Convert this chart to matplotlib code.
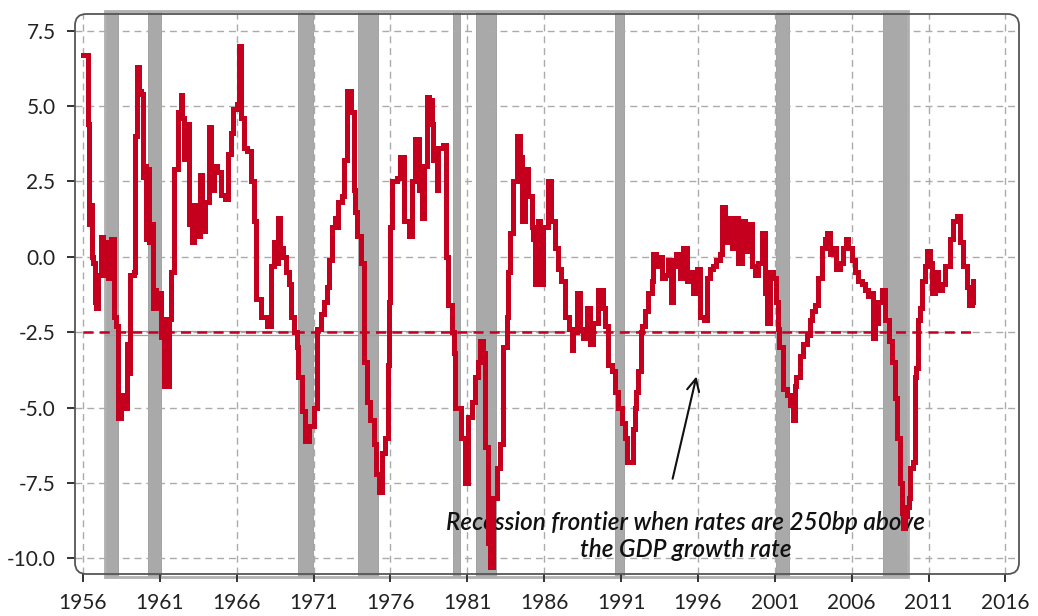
import matplotlib
matplotlib.use("Agg")
import matplotlib.pyplot as plt
from matplotlib.patches import FancyBboxPatch, Rectangle
import matplotlib.transforms as mtransforms

plt.rcParams['font.family'] = ['Lato', 'DejaVu Sans']
plt.rcParams['axes.unicode_minus'] = False

# ---------------- data ----------------
years = [
    1956.0, 1956.3, 1956.35, 1956.4, 1956.5, 1956.56, 1956.65, 1956.75, 1956.85, 1957.0,
    1957.2, 1957.3, 1957.45, 1957.6, 1957.8, 1958.0, 1958.15, 1958.3, 1958.5, 1958.7,
    1958.85, 1958.95, 1959.05, 1959.3, 1959.4, 1959.5, 1959.62, 1959.75, 1959.9, 1960.0,
    1960.1, 1960.25, 1960.32, 1960.45, 1960.55, 1960.65, 1960.75, 1960.95, 1961.05, 1961.15,
    1961.3, 1961.5, 1961.6, 1961.75, 1961.9, 1962.05, 1962.15, 1962.35, 1962.45, 1962.55,
    1962.75, 1962.9, 1963.1, 1963.2, 1963.4, 1963.6, 1963.75, 1963.95, 1964.2, 1964.3,
    1964.5, 1964.7, 1964.95, 1965.25, 1965.45, 1965.6, 1965.75, 1966.0, 1966.15, 1966.3,
    1966.45, 1966.65, 1966.8, 1966.95, 1967.1, 1967.25, 1967.4, 1967.6, 1967.95, 1968.2,
    1968.4, 1968.55, 1968.7, 1968.8, 1969.0, 1969.2, 1969.4, 1969.5, 1969.7, 1969.9,
    1970.0, 1970.25, 1970.45, 1970.7, 1971.0, 1971.2, 1971.45, 1971.65, 1971.85, 1972.0,
    1972.2, 1972.4, 1972.5, 1972.6, 1972.85, 1973.0, 1973.2, 1973.4, 1973.6, 1973.7,
    1973.8, 1974.05, 1974.25, 1974.5, 1974.7, 1974.9, 1975.05, 1975.25, 1975.45, 1975.65,
    1975.85, 1975.9, 1976.0, 1976.1, 1976.4, 1976.6, 1976.85, 1977.2, 1977.4, 1977.6,
    1977.85, 1978.05, 1978.2, 1978.35, 1978.5, 1978.67, 1978.78, 1979.0, 1979.1, 1979.43,
    1979.6, 1979.76, 1979.98, 1980.1, 1980.2, 1980.4, 1980.6, 1980.85, 1981.06, 1981.3,
    1981.5, 1981.7, 1981.8, 1982.0, 1982.15, 1982.35, 1982.47, 1982.69, 1982.9, 1983.1,
    1983.34, 1983.55, 1983.66, 1983.77, 1983.99, 1984.2, 1984.42, 1984.53, 1984.75, 1984.96,
    1985.18, 1985.29, 1985.4, 1985.6, 1985.7, 1985.94, 1986.26, 1986.47, 1986.7, 1986.9,
    1987.1, 1987.35, 1987.6, 1987.8, 1987.9, 1988.1, 1988.3, 1988.5, 1988.76, 1988.98,
    1989.2, 1989.5, 1989.85, 1989.95, 1990.17, 1990.4, 1990.6, 1990.8, 1991.04, 1991.26,
    1991.37, 1991.6, 1991.8, 1991.9, 1992.0, 1992.1, 1992.28, 1992.34, 1992.56, 1992.78,
    1993.0, 1993.1, 1993.3, 1993.4, 1993.64, 1993.86, 1994.08, 1994.23, 1994.4, 1994.6,
    1994.84, 1995.05, 1995.27, 1995.5, 1995.7, 1995.93, 1996.14, 1996.36, 1996.57, 1996.8,
    1997.0, 1997.2, 1997.44, 1997.55, 1997.76, 1997.98, 1998.2, 1998.42, 1998.63, 1998.85,
    1999.07, 1999.28, 1999.5, 1999.7, 1999.93, 2000.15, 2000.36, 2000.47, 2000.7, 2000.9,
    2001.05, 2001.2, 2001.3, 2001.55, 2001.77, 2001.98, 2002.2, 2002.3, 2002.4, 2002.64,
    2002.85, 2003.07, 2003.3, 2003.4, 2003.6, 2003.83, 2004.05, 2004.26, 2004.37, 2004.6,
    2004.8, 2005.0, 2005.24, 2005.46, 2005.6, 2005.78, 2006.0, 2006.2, 2006.43, 2006.65,
    2006.86, 2007.08, 2007.3, 2007.4, 2007.5, 2007.73, 2007.95, 2008.17, 2008.4, 2008.6,
    2008.82, 2008.93, 2009.15, 2009.25, 2009.36, 2009.47, 2009.58, 2009.7, 2009.8, 2010.0,
    2010.1, 2010.2, 2010.3, 2010.45, 2010.55, 2010.77, 2010.9, 2011.1, 2011.2, 2011.4,
    2011.6, 2011.85, 2012.07, 2012.4, 2012.6, 2012.83, 2013.05, 2013.27, 2013.5, 2013.6,
    2013.8, 2013.92,
]
spread = [
    6.7, 4.6, 4.4, 1.1, 1.7, 0.0, -0.2, -1.5, -1.7, -0.6,
    0.65, -0.6, 0.5, -0.7, 0.6, -2.0, -2.3, -5.35, -4.6, -5.0,
    -2.9, -3.85, -0.6, -0.5, 4.0, 6.3, 5.5, 5.4, 2.65, 3.0,
    0.6, 2.9, 0.5, 1.1, -1.7, -1.1, -1.7, -1.2, -2.65, -2.05,
    -4.3, -4.3, -2.05, -0.5, 2.9, 2.9, 4.8, 5.35, 4.6, 3.25,
    4.4, 1.1, 0.5, 1.7, 0.7, 2.7, 0.85, 1.8, 4.3, 2.2,
    3.0, 2.8, 2.05, 1.9, 3.4, 4.1, 4.9, 5.05, 7.0, 4.6,
    3.6, 3.5, 3.5, 2.5, 1.2, -1.4, -1.4, -2.0, -2.3, -0.3,
    0.5, -0.2, 1.3, 0.3, 0.0, -0.5, -0.9, -2.0, -2.5, -3.0,
    -4.0, -5.1, -6.1, -5.6, -5.0, -2.4, -1.9, -1.5, -1.0, -0.1,
    1.0, 1.3, 1.0, 1.8, 2.0, 3.2, 5.5, 4.8, 2.2, 1.5,
    0.7, -0.2, -3.5, -4.8, -5.4, -6.2, -7.2, -7.8, -6.5, -6.0,
    -3.6, -1.5, 1.0, 2.5, 2.6, 3.3, 1.2, 0.7, 2.5, 3.9,
    2.2, 1.3, 3.0, 5.3, 5.2, 4.4, 3.2, 2.2, 3.6, 3.7,
    0.0, -1.6, -2.5, -3.2, -5.0, -5.0, -6.0, -7.5, -5.3, -4.8,
    -4.0, -3.5, -2.8, -3.2, -6.3, -9.5, -10.3, -8.0, -7.0, -6.2,
    -3.0, -2.0, -0.5, 0.8, 2.5, 4.0, 3.3, 1.2, 2.9, 2.0,
    1.0, 0.6, -0.9, 1.2, -0.9, 1.0, 2.5, 1.2, 0.3, -0.4,
    -0.8, -2.0, -2.4, -3.1, -2.5, -1.2, -2.4, -2.7, -1.7, -2.9,
    -2.2, -1.1, -1.7, -2.3, -3.6, -3.8, -4.5, -5.0, -5.5, -6.0,
    -6.8, -6.8, -5.7, -5.0, -4.5, -3.8, -2.5, -2.3, -1.8, -1.2,
    -0.8, 0.1, -0.3, 0.0, -0.7, -0.6, -0.1, -1.5, -0.3, 0.1,
    -0.7, 0.3, -0.8, -0.5, -1.2, -0.4, -2.0, -2.1, -0.7, -0.4,
    -0.3, -0.1, 0.1, 1.65, 0.5, 1.3, 0.3, 1.3, -0.2, 1.2,
    0.2, 1.1, -0.3, -0.6, -0.2, 0.8, -1.2, -2.2, -0.5, -0.7,
    -1.5, -2.4, -3.0, -4.4, -4.6, -4.9, -5.4, -4.3, -4.0, -3.3,
    -2.9, -2.6, -2.1, -1.8, -1.6, -0.7, 0.3, 0.6, 0.8, 0.1,
    0.3, -0.4, -0.2, 0.3, 0.6, 0.3, -0.1, -0.5, -0.8, -0.9,
    -1.1, -1.3, -1.2, -2.7, -2.2, -1.5, -1.1, -2.1, -2.8, -3.5,
    -4.7, -6.0, -7.5, -8.5, -9.0, -8.6, -8.3, -8.0, -7.0, -6.8,
    -4.0, -3.7, -2.1, -1.7, -0.8, -0.3, 0.2, -0.2, -1.2, -0.5,
    -1.1, -0.9, -0.3, 0.6, 1.2, 1.35, 0.5, -0.3, -1.0, -1.6,
    -1.5, -0.8,
]

rec_start = [1957.43, 1960.25, 1969.96, 1973.9, 1980.05, 1981.56, 1990.62, 2001.1, 2008.03]
rec_end = [1958.28, 1961.07, 1970.98, 1975.2, 1980.52, 1982.86, 1991.22, 2001.9, 2009.66]

frontier = -2.5
x_ticks = [1956, 1961, 1966, 1971, 1976, 1981, 1986, 1991, 1996, 2001, 2006, 2011, 2016]
y_ticks = [7.5, 5.0, 2.5, 0.0, -2.5, -5.0, -7.5, -10.0]
y_ticklabels = ["7.5", "5.0", "2.5", "0.0", "-2.5", "-5.0", "-7.5", "-10.0"]
note = "Recession frontier when rates are 250bp above\nthe GDP growth rate"

# ---------------- figure ----------------
W, H = 1038, 616
fig = plt.figure(figsize=(W / 100, H / 100), dpi=100)
ax_l, ax_r, ax_t, ax_b = 75, 1019, 14, 574
ax = fig.add_axes([ax_l / W, 1 - ax_b / H, (ax_r - ax_l) / W, (ax_b - ax_t) / H])

ax.set_xlim(1955.48, 2016.88)
ax.set_ylim(-10.52, 8.05)

red = '#C5001F'
grid_c = '#ababab'

# recession bands
blend = mtransforms.blended_transform_factory(ax.transData, ax.transAxes)
for s, e in zip(rec_start, rec_end):
    ax.add_patch(Rectangle((s, -0.006), e - s, 1.0115, transform=blend,
                           facecolor='#a9a9a9', edgecolor='#9a9a9a', lw=0.6,
                           zorder=1, clip_on=False))
# outline of the recession layer
ax.add_patch(Rectangle((rec_start[0], -0.006), rec_end[-1] - rec_start[0], 1.0115,
                       transform=blend, facecolor='none', edgecolor='#b0b0b0',
                       lw=2.0, zorder=1.2, clip_on=False))

# grid
for xt in x_ticks:
    ax.axvline(xt, color=grid_c, lw=1.0, ls=(0, (5, 3.5)), zorder=2)
for yt in y_ticks:
    ax.axhline(yt, color=grid_c, lw=1.0, ls=(0, (5, 3.5)), zorder=2)

# frontier line with gray rails
ax.plot([rec_start[0], rec_end[-1]], [frontier + 0.05, frontier + 0.05], color='#a0a0a0', lw=0.9, zorder=2.2)
ax.plot([rec_start[0], rec_end[-1]], [frontier - 0.1, frontier - 0.1], color='#a0a0a0', lw=0.9, zorder=2.2)
ax.plot([1956.0, 2014.0], [frontier, frontier], color=red, lw=1.8,
        ls=(0, (4, 2.5)), zorder=2.4)

# annotation
ax.text(1995.2, -9.25, note, ha='center', va='center', fontsize=17.5,
        style='italic', fontweight='semibold', color='#111111', linespacing=1.2, zorder=3)
ax.annotate('', xy=(1995.94, -3.88), xytext=(1994.31, -7.45),
            arrowprops=dict(arrowstyle='->', color='#111111', lw=1.5,
                            mutation_scale=22), zorder=3)

# main series
ax.plot(years, spread, color=red, lw=3.6, drawstyle='steps-post', zorder=4,
        solid_joinstyle='miter')

# frame with rounded corners
for sp in ax.spines.values():
    sp.set_visible(False)
aspect = (ax_r - ax_l) / (ax_b - ax_t)
ax.add_patch(FancyBboxPatch((0, 0), 1, 1, transform=ax.transAxes,
                            boxstyle='round,pad=0,rounding_size=0.012',
                            mutation_aspect=aspect, facecolor='none',
                            edgecolor='#555555', lw=1.3, zorder=5, clip_on=False))

ax.set_xticks(x_ticks)
ax.set_xticklabels([str(x) for x in x_ticks])
ax.set_yticks(y_ticks)
ax.set_yticklabels(y_ticklabels)
ax.tick_params(axis='both', direction='out', length=6, width=1.4, color='#333333',
               labelsize=15, labelcolor='#222222')
ax.tick_params(axis='y', pad=8)
ax.tick_params(axis='x', pad=8)
ax.tick_params(top=False, right=False)

fig.savefig('out.png', dpi=100)
